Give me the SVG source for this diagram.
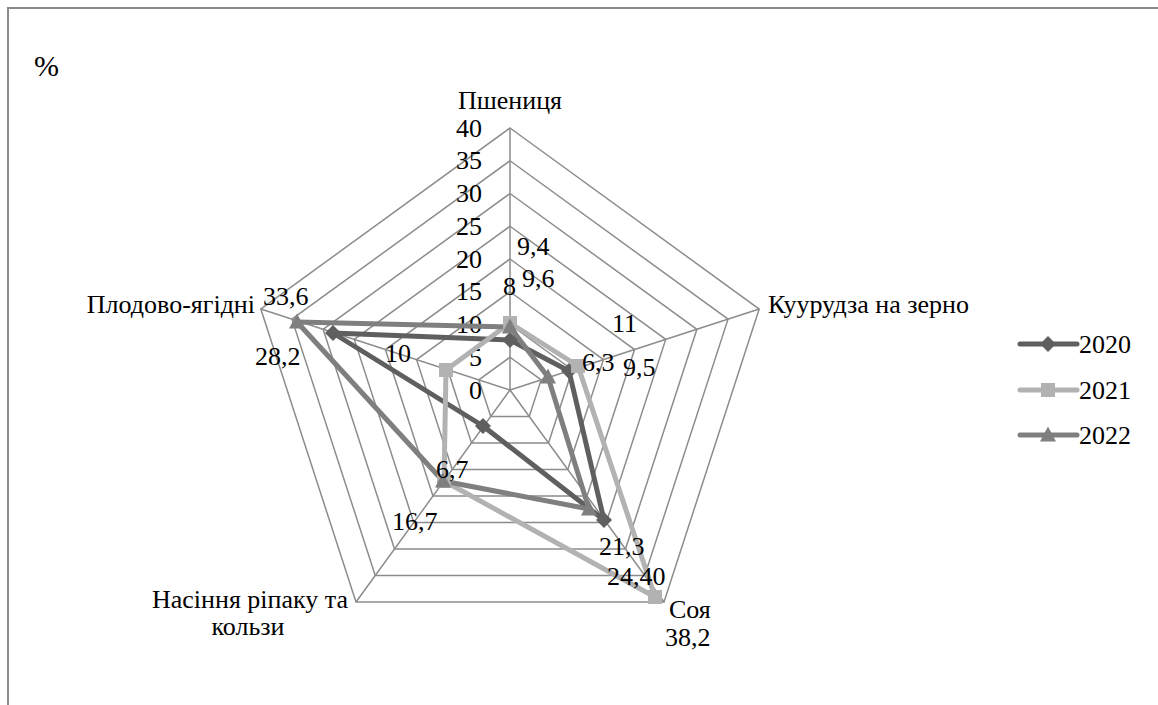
<svg xmlns="http://www.w3.org/2000/svg" width="1158" height="705" viewBox="0 0 1158 705">
<style>
.grid{fill:none;stroke:#8c8c8c;stroke-width:1.5}
.s20{fill:none;stroke:#5f5f5f;stroke-width:5;stroke-linejoin:round}
.s21{fill:none;stroke:#b2b2b2;stroke-width:5;stroke-linejoin:round}
.s22{fill:none;stroke:#7f7f7f;stroke-width:5;stroke-linejoin:round}
.m20{fill:#5f5f5f}
.m21{fill:#b2b2b2}
.m22{fill:#7f7f7f}
.tick{text-anchor:end}
</style>
<defs>
<path id="dia" d="M0,-8 L8,0 L0,8 L-8,0 Z"/>
<rect id="sq" x="-7" y="-7" width="14" height="14"/>
<path id="tri" d="M0,-8.5 L8,6.5 L-8,6.5 Z"/>
</defs>
<rect width="1158" height="705" fill="#fff"/>
<path d="M8,705 V8 H1158" fill="none" stroke="#8a8a8a" stroke-width="2"/>
<g font-family="Liberation Serif, Times New Roman, DejaVu Serif, serif" font-size="26" fill="#000">
<text x="34" y="76" font-size="30">%</text>
<g id="grid">
<polygon class="grid" points="510,357.25 541.15,379.88 529.25,416.5 490.75,416.5 478.85,379.88"/>
<polygon class="grid" points="510,324.5 572.29,369.76 548.5,442.99 471.5,442.99 447.71,369.76"/>
<polygon class="grid" points="510,291.75 603.44,359.64 567.75,469.49 452.25,469.49 416.56,359.64"/>
<polygon class="grid" points="510,259 634.59,349.52 587,495.98 433,495.98 385.41,349.52"/>
<polygon class="grid" points="510,226.25 665.74,339.4 606.25,522.48 413.75,522.48 354.26,339.4"/>
<polygon class="grid" points="510,193.5 696.88,329.28 625.5,548.97 394.5,548.97 323.12,329.28"/>
<polygon class="grid" points="510,160.75 728.03,319.16 644.75,575.47 375.25,575.47 291.97,319.16"/>
<polygon class="grid" points="510,128 759.18,309.04 664,601.96 356,601.96 260.82,309.04"/>
<path class="grid" d="M510,390 L510,128 M510,390 L759.18,309.04 M510,390 L664,601.96 M510,390 L356,601.96 M510,390 L260.82,309.04"/>
</g>
<g id="ticks">
<text class="tick" x="482" y="398.5">0</text>
<text class="tick" x="482" y="365.75">5</text>
<text class="tick" x="482" y="333">10</text>
<text class="tick" x="482" y="300.25">15</text>
<text class="tick" x="482" y="267.5">20</text>
<text class="tick" x="482" y="234.75">25</text>
<text class="tick" x="482" y="202">30</text>
<text class="tick" x="482" y="169.25">35</text>
<text class="tick" x="482" y="136.5">40</text>
</g>
<g id="categories">
<text x="510" y="109" text-anchor="middle">Пшениця</text>
<text x="768" y="313">Куурудза на зерно</text>
<text x="255" y="313" text-anchor="end">Плодово-ягідні</text>
<text x="250" y="608" text-anchor="middle">Насіння ріпаку та</text>
<text x="248" y="635" text-anchor="middle">кользи</text>
<text x="669" y="618">Соя</text>
</g>
<g id="connectors">
<polygon class="s20" points="510,340 569,371 604,520 483,426 333,333"/>
<polygon class="s21" points="510,323 578,366 655,597 444,481 446,370"/>
<polygon class="s22" points="510,327 548,377 589,509 443,481 297,322"/>
</g>
<g id="series2020" class="m20">
<use href="#dia" x="510" y="340"/><use href="#dia" x="569" y="371"/><use href="#dia" x="604" y="520"/><use href="#dia" x="483" y="426"/><use href="#dia" x="333" y="333"/>
</g>
<g id="series2021" class="m21">
<use href="#sq" x="510" y="323"/><use href="#sq" x="578" y="366"/><use href="#sq" x="655" y="597"/><use href="#sq" x="444" y="481"/><use href="#sq" x="446" y="370"/>
</g>
<g id="series2022" class="m22">
<use href="#tri" x="510" y="327"/><use href="#tri" x="548" y="377"/><use href="#tri" x="589" y="509"/><use href="#tri" x="443" y="481"/><use href="#tri" x="297" y="322"/>
</g>
<g id="datalabels">
<text x="517" y="255">9,4</text>
<text x="522" y="287">9,6</text>
<text x="503" y="295">8</text>
<text x="612" y="332">11</text>
<text x="582" y="371">6,3</text>
<text x="623" y="376">9,5</text>
<text x="263" y="305">33,6</text>
<text x="255" y="365">28,2</text>
<text x="385" y="362">10</text>
<text x="436" y="478">6,7</text>
<text x="392" y="530">16,7</text>
<text x="599" y="555">21,3</text>
<text x="607" y="585">24,40</text>
<text x="665" y="646">38,2</text>
</g>
<g id="legend">
<path class="s20" d="M1020,344 H1077" stroke-linecap="round" stroke-width="5.5"/>
<use href="#dia" x="1048" y="344" class="m20"/>
<text x="1079" y="353">2020</text>
<path class="s21" d="M1020,390 H1077" stroke-linecap="round" stroke-width="5.5"/>
<use href="#sq" x="1048" y="390" class="m21"/>
<text x="1079" y="399">2021</text>
<path class="s22" d="M1020,435 H1077" stroke-linecap="round" stroke-width="5.5"/>
<use href="#tri" x="1048" y="435" class="m22"/>
<text x="1079" y="444">2022</text>
</g>
</g>
</svg>
